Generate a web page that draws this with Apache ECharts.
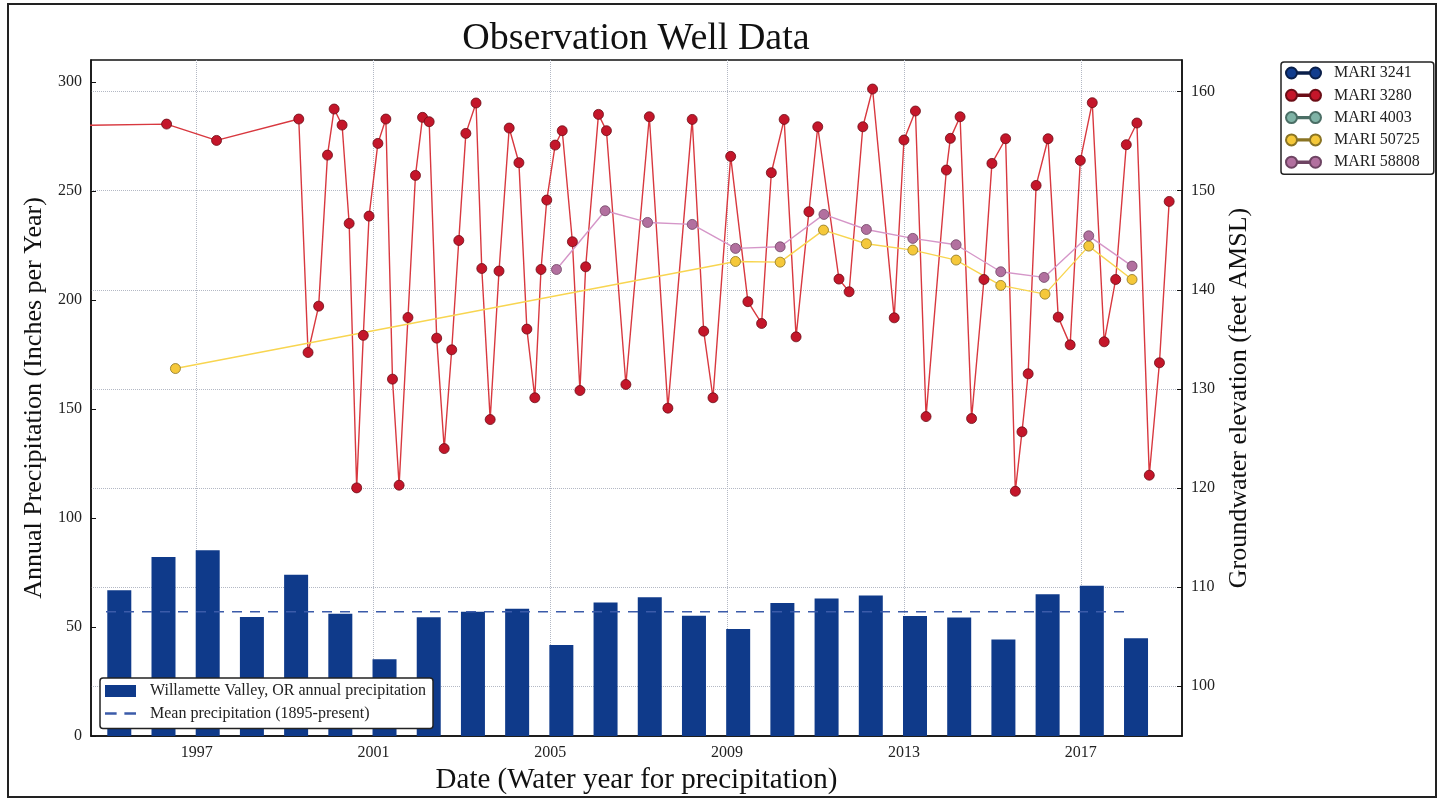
<!DOCTYPE html>
<html>
<head>
<meta charset="utf-8">
<title>Observation Well Data</title>
<script src="https://cdn.jsdelivr.net/npm/echarts@6.0.0/dist/echarts.min.js"></script>
<style>
	html, body { margin: 0; padding: 0; background: #fff; }
	#chart { width: 1445px; height: 800px; }
</style>
</head>
<body>
<div id="chart"></div>
<script>
// water years and annual precipitation (inches)
var waterYears = [1995, 1996, 1997, 1998, 1999, 2000, 2001, 2002, 2003, 2004, 2005, 2006,
	2007, 2008, 2009, 2010, 2011, 2012, 2013, 2014, 2015, 2016, 2017, 2018];
var precipInches = [66.8, 82.1, 85.2, 54.6, 73.9, 56.1, 35.2, 54.4, 57.0, 58.4, 41.7, 61.2,
	63.6, 55.2, 49.1, 61.0, 63.0, 64.4, 55.0, 54.3, 44.2, 65.0, 68.9, 44.8];
var meanPrecip = 57.0;
var meanSpan = [1994.95, 2018.0];

// x axis tick years
var tickYears = [1997, 2001, 2005, 2009, 2013, 2017];
var precipTicks = [0, 50, 100, 150, 200, 250, 300];
var elevTicks = [100, 110, 120, 130, 140, 150, 160];

// MARI 3280 (decimal year, feet AMSL)
var mari3280Dates = [1994.3, 1996.32, 1997.45, 1999.31, 1999.52, 1999.76, 1999.96, 2000.11, 2000.29, 2000.45,
	2000.62, 2000.77, 2000.90, 2001.10, 2001.28, 2001.43, 2001.58, 2001.78, 2001.95, 2002.11,
	2002.26, 2002.43, 2002.60, 2002.77, 2002.93, 2003.09, 2003.32, 2003.45, 2003.64, 2003.84,
	2004.07, 2004.29, 2004.47, 2004.65, 2004.79, 2004.92, 2005.11, 2005.27, 2005.50, 2005.67,
	2005.80, 2006.09, 2006.27, 2006.71, 2007.24, 2007.66, 2008.21, 2008.47, 2008.68, 2009.08,
	2009.47, 2009.78, 2010.0, 2010.29, 2010.56, 2010.85, 2011.05, 2011.53, 2011.76, 2012.07,
	2012.29, 2012.78, 2013.0, 2013.26, 2013.50, 2013.96, 2014.05, 2014.27, 2014.53, 2014.81,
	2014.99, 2015.30, 2015.52, 2015.67, 2015.81, 2015.99, 2016.26, 2016.49, 2016.76, 2016.99,
	2017.26, 2017.53, 2017.79, 2018.03, 2018.27, 2018.55, 2018.78, 2019.0];
var mari3280Levels = [156.6, 156.73, 155.08, 157.24, 133.67, 138.35, 153.6, 158.25, 156.63, 146.7,
	120.0, 135.4, 147.44, 154.78, 157.24, 130.98, 120.27, 137.2, 151.55, 157.41,
	156.97, 135.12, 123.97, 133.94, 144.98, 155.79, 158.86, 142.15, 126.9, 141.89,
	156.33, 152.83, 136.03, 129.1, 142.05, 149.06, 154.61, 156.06, 144.85, 129.83,
	142.32, 157.71, 156.06, 130.44, 157.47, 128.05, 157.2, 135.82, 129.1, 153.47,
	138.8, 136.6, 151.82, 157.2, 135.25, 147.88, 156.46, 141.08, 139.8, 156.46,
	160.27, 137.17, 155.12, 158.05, 127.2, 152.09, 155.29, 157.47, 127.0, 141.04,
	152.76, 155.25, 119.66, 125.66, 131.52, 150.54, 155.25, 137.24, 134.44, 153.06,
	158.89, 134.75, 141.04, 154.65, 156.84, 121.28, 132.63, 148.92];

// MARI 50725
var mari50725Dates = [1996.52, 2009.19, 2010.20, 2011.18, 2012.15, 2013.20, 2014.18, 2015.19, 2016.19, 2017.18, 2018.16];
var mari50725Levels = [132.05, 142.86, 142.79, 146.03, 144.65, 144.01, 143.0, 140.44, 139.56, 144.41, 141.04];

// MARI 58808
var mari58808Dates = [2005.14, 2006.24, 2007.20, 2008.21, 2009.19, 2010.20, 2011.19, 2012.15, 2013.20, 2014.18,
	2015.19, 2016.17, 2017.18, 2018.16];
var mari58808Levels = [142.05, 147.98, 146.8, 146.6, 144.18, 144.34, 147.61, 146.09, 145.19, 144.55,
	141.82, 141.25, 145.45, 142.39];

// no readings shown for these two
var mari3241Dates = [];
var mari3241Levels = [];
var mari4003Dates = [];
var mari4003Levels = [];

var serif = '"Liberation Serif", "Times New Roman", serif';

function zip(xs, ys) {
	var out = [];
	for(var i = 0; i < xs.length; i++) {
		out.push([xs[i], ys[i]]);
	}
	return out;
}

function well(name, dates, levels, lineColor, fill, border) {
	return {
		name: name,
		type: 'line',
		xAxisIndex: 0,
		yAxisIndex: 1,
		data: zip(dates, levels),
		symbol: 'circle',
		symbolSize: 10,
		clip: true,
		lineStyle: { color: lineColor, width: 1.4 },
		itemStyle: { color: fill, borderColor: border, borderWidth: 0.8 },
		emphasis: { disabled: true },
		z: 3
	};
}

var wellIcon = 'path://M0,5.5A5.5,5.5,0,1,1,11,5.5A5.5,5.5,0,1,1,0,5.5ZM24,5.5A5.5,5.5,0,1,1,35,5.5A5.5,5.5,0,1,1,24,5.5ZM11,4.8H24V6.2H11Z';
var dashIcon = 'path://M0,0H9V2H0ZM15,0H24V2H15Z';

var myChart = echarts.init(document.getElementById('chart'));
var option = {
	animation: false,
	backgroundColor: '#fff',
	textStyle: { fontFamily: serif },
	title: {
		text: 'Observation Well Data',
		left: 636,
		textAlign: 'center',
		top: 20,
		padding: 0,
		textStyle: { fontFamily: serif, fontSize: 38, fontWeight: 'normal', color: '#111' }
	},
	graphic: [{
		type: 'rect',
		shape: { x: 8, y: 4, width: 1428, height: 793 },
		style: { fill: 'none', stroke: '#222', lineWidth: 2 },
		silent: true
	}],
	grid: {
		left: 91,
		right: 263,
		top: 60,
		bottom: 64,
		show: true,
		borderColor: '#111',
		borderWidth: 1.5
	},
	legend: [{
		orient: 'vertical',
		left: 1281,
		top: 62,
		padding: [3, 14, 4, 4],
		itemWidth: 35,
		itemHeight: 11,
		itemGap: 6.3,
		selectedMode: false,
		backgroundColor: '#fff',
		borderColor: '#222',
		borderWidth: 1.5,
		borderRadius: 3,
		textStyle: { fontFamily: serif, fontSize: 16, color: '#222', padding: [0, 0, 0, 8] },
		data: [
			{ name: 'MARI 3241', icon: wellIcon },
			{ name: 'MARI 3280', icon: wellIcon },
			{ name: 'MARI 4003', icon: wellIcon },
			{ name: 'MARI 50725', icon: wellIcon },
			{ name: 'MARI 58808', icon: wellIcon }
		]
	}, {
		orient: 'vertical',
		left: 100,
		top: 678,
		padding: [5, 7, 7, 5],
		itemWidth: 31,
		itemHeight: 12,
		itemGap: 6.5,
		selectedMode: false,
		backgroundColor: '#fff',
		borderColor: '#222',
		borderWidth: 1.5,
		borderRadius: 3,
		z: 10,
		textStyle: { fontFamily: serif, fontSize: 16, color: '#222', padding: [0, 0, 0, 9] },
		data: [
			{ name: 'Willamette Valley, OR annual precipitation', icon: 'rect' },
			{ name: 'Mean precipitation (1895-present)', icon: dashIcon }
		]
	}],
	xAxis: {
		type: 'value',
		min: 1994.61,
		max: 2019.29,
		name: 'Date (Water year for precipitation)',
		nameLocation: 'middle',
		nameGap: 29,
		nameTextStyle: { fontFamily: serif, fontSize: 29, color: '#111' },
		axisLine: { show: true, lineStyle: { color: '#111', width: 1.5 } },
		axisTick: { show: true, inside: true, length: 5, customValues: tickYears, lineStyle: { color: '#111' } },
		axisLabel: {
			customValues: tickYears,
			margin: 9,
			fontFamily: serif,
			fontSize: 16,
			color: '#222',
			formatter: function(v) {
				return String(Math.round(v));
			}
		},
		splitLine: { show: true, lineStyle: { color: '#b3b8c4', type: 'dotted', width: 1 } }
	},
	yAxis: [{
		type: 'value',
		position: 'left',
		min: 0,
		max: 310,
		name: 'Annual Precipitation (Inches per Year)',
		nameLocation: 'middle',
		nameRotate: 90,
		nameGap: 44,
		nameTextStyle: { fontFamily: serif, fontSize: 26, color: '#111' },
		axisLine: { show: true, lineStyle: { color: '#111', width: 1.5 } },
		axisTick: { show: true, inside: true, length: 5, customValues: precipTicks, lineStyle: { color: '#111' } },
		axisLabel: { customValues: precipTicks, margin: 9, fontFamily: serif, fontSize: 16, color: '#222' },
		splitLine: { show: false }
	}, {
		type: 'value',
		position: 'right',
		min: 94.95,
		max: 163.2,
		name: 'Groundwater elevation (feet AMSL)',
		nameLocation: 'middle',
		nameRotate: 90,
		nameGap: 39,
		nameTextStyle: { fontFamily: serif, fontSize: 26, color: '#111' },
		axisLine: { show: true, lineStyle: { color: '#111', width: 1.5 } },
		axisTick: { show: true, inside: true, length: 5, customValues: elevTicks, lineStyle: { color: '#111' } },
		axisLabel: { customValues: elevTicks, margin: 9, fontFamily: serif, fontSize: 16, color: '#222' },
		splitLine: { show: true, lineStyle: { color: '#b3b8c4', type: 'dotted', width: 1 } }
	}],
	series: [{
			name: 'Willamette Valley, OR annual precipitation',
			type: 'bar',
			xAxisIndex: 0,
			yAxisIndex: 0,
			// bars sit a quarter year after the start of each water year
			data: waterYears.map(function(y, i) { return [y + 0.25, precipInches[i]]; }),
			barWidth: 24,
			itemStyle: { color: '#0f3a8a' },
			emphasis: { disabled: true },
			z: 2
		},
		{
			name: 'Mean precipitation (1895-present)',
			type: 'line',
			xAxisIndex: 0,
			yAxisIndex: 0,
			data: meanSpan.map(function(x) { return [x, meanPrecip]; }),
			symbol: 'none',
			lineStyle: { color: '#3b5ba9', width: 1.6, type: [10, 8] },
			itemStyle: { color: '#3b5ba9' },
			emphasis: { disabled: true },
			z: 2
		},
		well('MARI 3241', mari3241Dates, mari3241Levels, '#1f4796', '#123d8e', '#0a1f4a'),
		well('MARI 3280', mari3280Dates, mari3280Levels, '#d8383f', '#c4162a', '#6b0d16'),
		well('MARI 4003', mari4003Dates, mari4003Levels, '#8fbcb0', '#7fb3a6', '#4b6f66'),
		well('MARI 50725', mari50725Dates, mari50725Levels, '#f8d550', '#f5c83a', '#8a7424'),
		well('MARI 58808', mari58808Dates, mari58808Levels, '#d596c8', '#b2709f', '#6e4463')
	]
};
myChart.setOption(option);
</script>
</body>
</html>
